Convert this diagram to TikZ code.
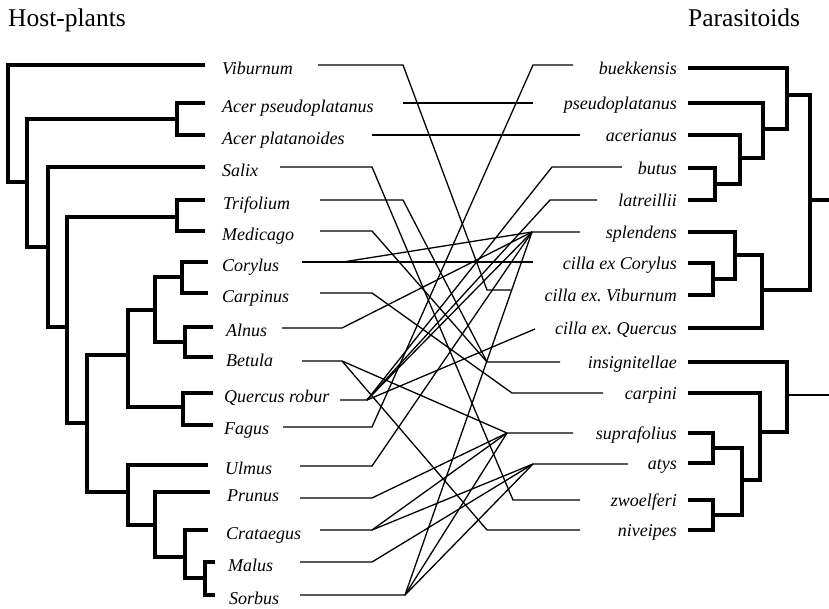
\documentclass[tikz,border=0pt]{standalone}
\usepackage{fontspec}
\setmainfont{Liberation Serif}

\begin{document}
\begin{tikzpicture}[x=1pt, y=-1pt,
  tree/.style={line width=3.6pt},
  link/.style={line width=1.3pt},
  host/.style={anchor=base west, inner sep=0pt,
               font=\fontsize{18}{20}\selectfont\itshape},
  para/.style={anchor=base east, inner sep=0pt,
               font=\fontsize{18}{20}\selectfont\itshape},
  head/.style={anchor=base west, inner sep=0pt,
               font=\fontsize{25.5}{28}\selectfont}]
\useasboundingbox (0,0) rectangle (829,608);

% titles
\node[head] (hosthead) at (8,26) {Host-plants};
\node[head] (parahead) at (688,26) {Parasitoids};

% host-plant labels
\foreach \n/\x/\y/\t in {vib/222/65/Viburnum, aps/222/103/Acer pseudoplatanus,
    apl/222/135/Acer platanoides, sal/222/167/Salix, tri/223/200/Trifolium,
    med/222/231/Medicago, cor/222/262/Corylus, car/222/293/Carpinus,
    aln/226/327/Alnus, bet/226/357/Betula, que/224/393/Quercus robur,
    fag/224/425/Fagus, ulm/225/465/Ulmus, pru/227/492/Prunus,
    cra/226/530/Crataegus, mal/228/562/Malus, sor/229/595/Sorbus}
  \node[host] (\n) at (\x,\y+9.5) {\t};

% parasitoid labels
\foreach \n/\y/\t in {buek/68/buekkensis, pse/103/pseudoplatanus,
    acr/135/acerianus, but/168/butus, lat/200/latreillii, spl/232/splendens,
    ccor/263/cilla ex Corylus, cvib/295/cilla ex.\ Viburnum,
    cque/328/cilla ex.\ Quercus, ins/362/insignitellae, cpn/393/carpini,
    sup/433/suprafolius, aty/463/atys, zwo/500/zwoelferi, niv/530/niveipes}
  \node[para] (\n) at (677,\y+6.5) {\t};

% host-plant tree
\draw[tree] (205,65) -| (8,182) -- (27,182);
\draw[tree] (205,103) -| (177,135) -- (205,135);
\draw[tree] (177,119) -| (27,247) -- (48,247);
\draw[tree] (205,167) -| (48,327) -- (67,327);
\draw[tree] (205,200) -| (177,231) -- (205,231);
\draw[tree] (177,217) -| (67,423) -- (87,423);
\draw[tree] (208,262) -| (182,293) -- (208,293);
\draw[tree] (182,277) -| (155,342) -- (185,342);
\draw[tree] (213,327) -| (185,357) -- (213,357);
\draw[tree] (155,310) -| (128,407) -- (183,407);
\draw[tree] (213,393) -| (183,425) -- (213,425);
\draw[tree] (128,355) -| (87,492) -- (128,492);
\draw[tree] (208,465) -| (128,525) -- (155,525);
\draw[tree] (210,492) -| (155,557) -- (185,557);
\draw[tree] (208,530) -| (185,578) -- (205,578);
\draw[tree] (215,562) -| (205,595) -- (215,595);

% parasitoid tree
\draw[tree] (688,168) -| (715,200) -- (688,200);
\draw[tree] (715,184) -| (740,135) -- (688,135);
\draw[tree] (740,158) -| (763,103) -- (688,103);
\draw[tree] (763,129) -| (787,68) -- (688,68);
\draw[tree] (787,95) -| (810,290) -- (762,290);
\draw[tree] (810,200) -- (829,200);
\draw[tree] (688,263) -| (713,295) -- (688,295);
\draw[tree] (713,279) -| (735,232) -- (688,232);
\draw[tree] (735,255) -| (762,328) -- (688,328);
\draw[tree] (688,433) -| (713,463) -- (688,463);
\draw[tree] (688,500) -| (713,530) -- (688,530);
\draw[tree] (713,448) -| (742,515) -- (713,515);
\draw[tree] (742,480) -| (760,393) -- (688,393);
\draw[tree] (760,432) -| (787,362) -- (688,362);
\draw[tree, line width=1.8pt] (787,395) -- (829,395);

% connector ends, host side: start and knee
\foreach \n/\y/\s/\k in {vib/65/318/403, aps/103/403/403, apl/135/372/372,
    sal/167/280/372, tri/200/320/403, med/231/320/372, cor/262/302/343,
    car/293/320/372, aln/328/282/342, bet/361/302/342, que/400/340/367,
    fag/427/283/372, ulm/466/300/372, pru/498/300/372, cra/530/320/372,
    mal/562/300/372, sor/595/300/405}
  {\coordinate (\n-s) at (\s,\y); \coordinate (\n-k) at (\k,\y);}

% connector ends, parasitoid side: knee and end
\foreach \n/\y/\k/\e in {buek/65/533/573, pse/103/533/533, acr/135/580/580,
    but/167/552/622, lat/200/550/597, spl/232/532/580, ccor/262/533/533,
    cvib/290/487/512, cque/329/535/535, ins/362/487/560, cpn/393/512/603,
    sup/433/507/573, aty/464/533/628, zwo/500/513/580, niv/530/487/580}
  {\coordinate (\n-k) at (\k,\y); \coordinate (\n-e) at (\e,\y);}

% associations
\draw[link] (vib-s) -- (vib-k) -- (cvib-k) -- (cvib-e);
\draw[link] (aps-s) -- (pse-e);
\draw[link] (apl-s) -- (acr-e);
\draw[link] (sal-s) -- (sal-k) -- (zwo-k) -- (zwo-e);
\draw[link] (tri-s) -- (tri-k) -- (ins-k) -- (ins-e);
\draw[link] (med-s) -- (med-k) -- (ins-k);
\draw[link] (cor-s) -- (ccor-e);
\draw[link] (cor-k) -- (spl-k) -- (spl-e);
\draw[link] (car-s) -- (car-k) -- (cpn-k) -- (cpn-e);
\draw[link] (aln-s) -- (aln-k) -- (spl-k);
\draw[link] (bet-s) -- (bet-k) -- (sup-k) -- (sup-e);
\draw[link] (bet-k) -- (niv-k) -- (niv-e);
\draw[link] (que-s) -- (que-k) -- (but-k) -- (but-e);
\draw[link] (que-k) -- (lat-k) -- (lat-e);
\draw[link] (que-k) -- (spl-k);
\draw[link] (que-k) -- (cque-k);
\draw[link] (fag-s) -- (fag-k) -- (buek-k) -- (buek-e);
\draw[link] (ulm-s) -- (ulm-k) -- (spl-k);
\draw[link] (pru-s) -- (pru-k) -- (sup-k);
\draw[link] (cra-s) -- (cra-k) -- (sup-k);
\draw[link] (cra-k) -- (aty-k) -- (aty-e);
\draw[link] (mal-s) -- (mal-k) -- (aty-k);
\draw[link] (sor-s) -- (sor-k) -- (spl-k);
\draw[link] (sor-k) -- (sup-k);
\draw[link] (sor-k) -- (aty-k);
\end{tikzpicture}
\end{document}
